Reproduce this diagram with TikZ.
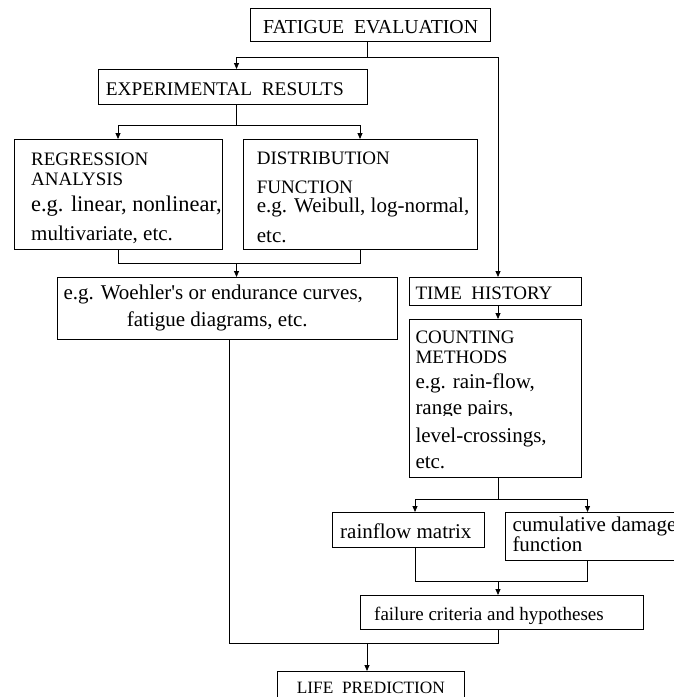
\documentclass[tikz,border=0pt]{standalone}
\usepackage{fontspec}
\setmainfont{Liberation Serif}
\usetikzlibrary{arrows.meta,fit}
\begin{document}
\begin{tikzpicture}[x=1pt,y=-1pt,
  box/.style={draw, line width=0.8pt, inner sep=0pt, outer sep=0pt},
  captext/.style={font=\fontsize{19}{19}\selectfont, inner sep=0pt, anchor=base west},
  lowtext/.style={font=\fontsize{21}{21}\selectfont, inner sep=0pt, anchor=base west},
  link/.style={line width=0.8pt},
  arr/.style={link, -{Triangle[length=6pt,width=5pt]}}]
\useasboundingbox (0,0) rectangle (674,697);

% boxes
\node[box, fit={(250,8) (490,41)}]    (fe)   {};
\node[box, fit={(98,69) (367,104)}]   (exp)  {};
\node[box, fit={(14,139) (222,249)}]  (reg)  {};
\node[box, fit={(243,139) (477,249)}] (dist) {};
\node[box, fit={(57,277) (397,339)}]  (woe)  {};
\node[box, fit={(409,277) (581,305)}] (th)   {};
\node[box, fit={(409,319) (581,477)}] (cnt)  {};
\node[box, fit={(332,512) (484,547)}] (rfm)  {};
\node[box, fit={(505,512) (700,560)}] (cdf)  {};
\node[box, fit={(360,595) (643,629)}] (fail) {};
\node[box, fit={(277,671) (464,720)}] (life) {};

% texts
\node[captext, font=\fontsize{19.8}{19.8}\selectfont] (tfe) at (263,33.3) {FATIGUE\ \ EVALUATION};
\node[captext, font=\fontsize{19.3}{19.3}\selectfont] (texp) at (105.6,95) {EXPERIMENTAL\ \ RESULTS};
\node[captext] (treg1) at (31,165) {REGRESSION};
\node[captext] (treg2) at (31,185) {ANALYSIS};
\node[lowtext, font=\fontsize{22.4}{22.4}\selectfont] (treg3) at (31,211) {e.g. linear, nonlinear,};
\node[lowtext] (treg4) at (31,240) {multivariate, etc.};
\node[captext] (tdist1) at (256.7,164) {DISTRIBUTION};
\node[captext] (tdist2) at (256.7,193) {FUNCTION};
\node[lowtext] (tdist3) at (256.7,212) {e.g. Weibull, log-normal,};
\node[lowtext] (tdist4) at (256.7,242) {etc.};
\node[lowtext] (twoe1) at (63.3,299) {e.g. Woehler\textquotesingle s or endurance curves,};
\node[lowtext] (twoe2) at (126.7,326.7) {fatigue diagrams, etc.};
\node[captext] (tth) at (415.3,299.3) {TIME\ \ HISTORY};
\node[captext] (tcnt1) at (415.3,343.3) {COUNTING};
\node[captext] (tcnt2) at (415.3,363.3) {METHODS};
\node[lowtext] (tcnt3) at (415.3,388.3) {e.g. rain-flow,};
\node[lowtext] (tcnt4) at (415.3,414.5) {range pairs,};
\node[lowtext, fill=white, text height=27pt] (tcnt5) at (415.3,442.7) {level-crossings,};
\node[lowtext] (tcnt6) at (415.3,468) {etc.};
\node[lowtext] (trfm) at (340,538.3) {rainflow matrix};
\node[lowtext] (tcdf1) at (512.3,531.7) {cumulative damage};
\node[lowtext] (tcdf2) at (512.3,551.7) {function};
\node[captext] (tfail) at (374,620.7) {failure criteria and hypotheses};
\node[captext, font=\fontsize{17.3}{17.3}\selectfont] (tlife) at (296.7,693) {LIFE\ \ PREDICTION};

% rails of the connectors
\coordinate (busA) at (0,57);
\coordinate (busB) at (0,125);
\coordinate (busC) at (0,263);
\coordinate (busD) at (0,499);
\coordinate (busE) at (0,581);
\coordinate (busF) at (0,643);
\coordinate (xFE)  at (367,0);
\coordinate (xExp) at (236.5,0);
\coordinate (xR)   at (498,0);
\coordinate (xW)   at (229,0);
\coordinate (xRf)  at (415,0);
\coordinate (xCd)  at (587.5,0);

% connectors
\draw[link] (fe.south -| xFE) -- (busA -| xFE);
\draw[arr]  (busA -| xFE) -| (exp.north -| xExp);
\draw[arr]  (busA -| xFE) -| (th.north -| xR);
\draw[link] (exp.south -| xExp) -- (busB -| xExp);
\draw[arr]  (busB -| xExp) -| (reg.north);
\draw[arr]  (busB -| xExp) -| (dist.north);
\draw[link] (reg.south) |- (busC -| dist.south) -- (dist.south);
\draw[arr]  (busC -| xExp) -- (woe.north -| xExp);
\draw[arr]  (th.south -| xR) -- (cnt.north -| xR);
\draw[link] (cnt.south -| xR) -- (busD -| xR);
\draw[arr]  (busD -| xR) -| (rfm.north -| xRf);
\draw[arr]  (busD -| xR) -| (cdf.north -| xCd);
\draw[link] (rfm.south -| xRf) |- (busE -| xCd) -- (cdf.south -| xCd);
\draw[arr]  (busE -| xR) -- (fail.north -| xR);
\draw[link] (woe.south -| xW) |- (busF -| xR) -- (fail.south -| xR);
\draw[arr]  (busF -| xFE) -- (life.north -| xFE);
\end{tikzpicture}
\end{document}
